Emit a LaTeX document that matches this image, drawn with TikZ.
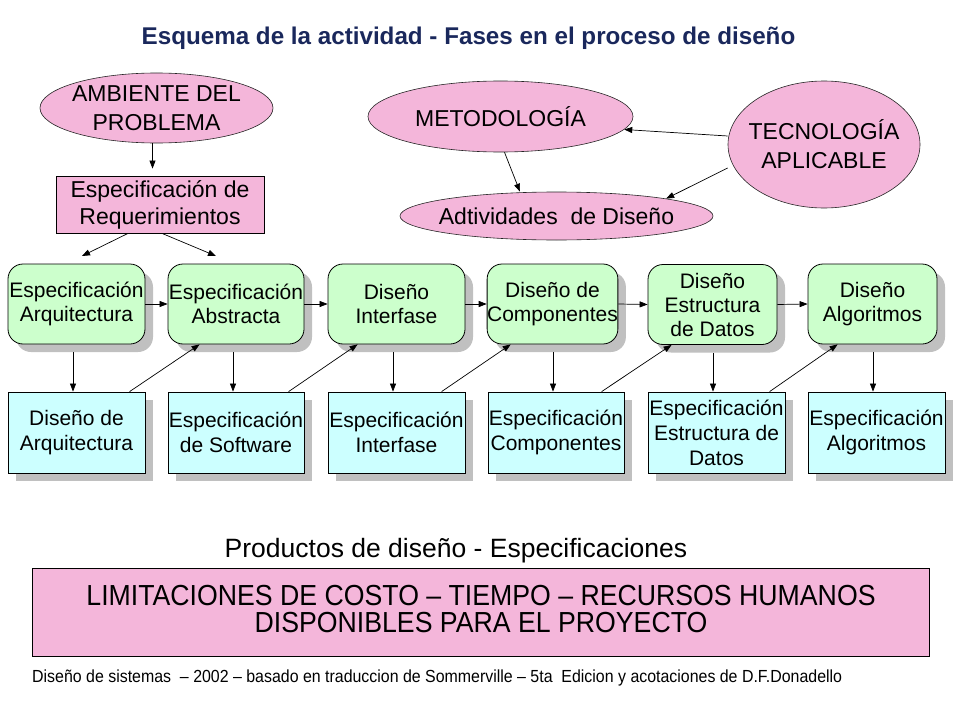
\documentclass[tikz,border=0pt]{standalone}
\usepackage{fontspec}
\setmainfont{Liberation Sans}
\newfontfamily\narrowfont[FakeStretch=0.92]{Liberation Sans}
\newfontfamily\footfont[FakeStretch=0.91]{Liberation Sans}
\usetikzlibrary{shapes.geometric,arrows.meta,shadows,calc}
\definecolor{pinkc}{RGB}{244,182,218}
\definecolor{greenc}{RGB}{204,255,204}
\definecolor{cyanc}{RGB}{204,255,255}
\definecolor{shadowc}{RGB}{192,192,192}
\definecolor{titlec}{RGB}{26,40,92}
\begin{document}
\begin{tikzpicture}[x=1pt,y=-1pt,
  pinkell/.style={ellipse, draw=black!85, line width=0.6pt, fill=pinkc, inner sep=0pt},
  pinktxt/.style={inner sep=0pt, align=center, font=\fontsize{23}{29}\selectfont},
  boxshadow/.style={general shadow={fill=shadowc, shadow xshift=8pt, shadow yshift=-8pt}},
  greenbox/.style={rectangle, rounded corners=15pt, draw, line width=0.8pt, fill=greenc,
    minimum height=80pt, inner sep=0pt, align=center, font=\fontsize{21}{24}\selectfont, boxshadow},
  cyanbox/.style={rectangle, draw, line width=0.8pt, fill=cyanc,
    minimum height=81pt, inner sep=0pt, align=center, font=\fontsize{21}{25}\selectfont, boxshadow},
  arr/.style={-{Triangle[length=8pt,width=6pt]}, line width=0.7pt}
]
\useasboundingbox[fill=white] (0,0) rectangle (956,717);

% title
\node[anchor=base, font=\fontsize{24.2}{28}\selectfont\bfseries, text=titlec] (title) at (468.5,45)
  {Esquema de la actividad - Fases en el proceso de diseño};

% ellipses
\node[pinkell, minimum width=233pt, minimum height=70pt] (amb) at (156.5,108) {};
\node[pinktxt] (ambT) at (amb) {AMBIENTE DEL\\PROBLEMA};
\node[pinkell, minimum width=265pt, minimum height=71pt] (met) at (500.5,116.5) {};
\node[pinktxt] (metT) at (met) {METODOLOGÍA};
\node[pinkell, minimum width=192pt, minimum height=127pt] (tec) at (824,144.5) {};
\node[pinktxt] (tecT) at (tec) {TECNOLOGÍA\\APLICABLE};
\node[pinkell, minimum width=313pt, minimum height=48pt] (adt) at (556.5,216) {};
\node[pinktxt] (adtT) at (adt) {Adtividades\ \ de Diseño};

% requirements box
\node[draw, fill=pinkc, line width=0.8pt, minimum width=208pt, minimum height=57pt, inner sep=0pt,
  align=center, font=\fontsize{23}{27}\selectfont] (req) at (160,204.5) {Especificación de\\Requerimientos};

\draw[arr] ([xshift=-4pt]amb.south) -- ([xshift=-4pt,yshift=7pt]amb.south |- req.north);
\coordinate (rq1) at (82,256);
\coordinate (rq2) at (216,256);
\draw[arr] ([xshift=-32pt]req.south) -- (rq1);
\draw[arr] ([xshift=2pt]req.south) -- (rq2);

\draw[arr] ([xshift=4pt]met.south) -- ([xshift=-36.5pt]adt.north);
\draw[arr] ([yshift=8.5pt]tec.west) -- (met.-6);
\draw[arr] ([yshift=-23.5pt]tec.west) -- (adt.9);

% green row
\node[greenbox, minimum width=137pt] (g1) at (76.5,304) {Especificación\\Arquitectura};
\node[greenbox, minimum width=136pt] (g2) at (236,304) {Especificación\\Abstracta};
\node[greenbox, minimum width=137pt] (g3) at (396.5,304) {Diseño\\Interfase};
\node[greenbox, minimum width=129pt] (g4) at (552.5,304) {Diseño de\\Componentes};
\node[greenbox, minimum width=129pt] (g5) at (712.5,304.5) {Diseño\\Estructura\\de Datos};
\node[greenbox, minimum width=129pt] (g6) at (872.5,304) {Diseño\\Algoritmos};

% cyan row
\node[cyanbox, minimum width=137pt] (c1) at (76.5,432.5) {Diseño de\\Arquitectura};
\node[cyanbox, minimum width=136pt] (c2) at (236,432.5) {Especificación\\de Software};
\node[cyanbox, minimum width=137pt] (c3) at (396.5,432.5) {Especificación\\Interfase};
\node[cyanbox, minimum width=136pt] (c4) at (556,432.5) {Especificación\\Componentes};
\node[cyanbox, minimum width=137pt] (c5) at (716.5,432.5) {Especificación\\Estructura de\\Datos};
\node[cyanbox, minimum width=137pt] (c6) at (876.5,432.5) {Especificación\\Algoritmos};

% horizontal arrows
\draw[arr] (g1.east) -- (g2.west);
\draw[arr] (g2.east) -- (g3.west);
\draw[arr] (g3.east) -- (g4.west);
\draw[arr] (g4.east) -- (g5.west);
\draw[arr] (g5.east) -- (g6.west);

% vertical arrows
\foreach \i/\dx in {1/-3.5,2/-3,3/-3.5,4/0.5,5/0.5,6/0.5}{
  \draw[arr] ([xshift=\dx pt,yshift=-8pt]g\i.south) -- ([xshift=\dx pt]g\i.south |- c\i.north);
}

% diagonal arrows
\draw[arr] ([xshift=122pt]c1.north west) -- ([xshift=32pt]g2.south west);
\draw[arr] ([xshift=121pt]c2.north west) -- ([xshift=30pt]g3.south west);
\draw[arr] ([xshift=114pt]c3.north west) -- ([xshift=24pt]g4.south west);
\draw[arr] ([xshift=114pt]c4.north west) -- ([xshift=24pt]g5.south west);
\draw[arr] ([xshift=122pt]c5.north west) -- ([xshift=30pt]g6.south west);

% bottom
\node[anchor=base, font=\fontsize{26.5}{30}\selectfont] (prod) at (456,557) {Productos de diseño - Especificaciones};
\node[draw, fill=pinkc, line width=0.8pt, minimum width=897pt, minimum height=88pt, inner sep=0pt] (lim) at (480.5,612) {};
\node[inner sep=0pt, align=center, font=\narrowfont\fontsize{29}{27}\selectfont] (limT) at (481,609)
  {LIMITACIONES DE COSTO – TIEMPO – RECURSOS HUMANOS\\DISPONIBLES PARA EL PROYECTO};
\node[anchor=base west, inner sep=0pt, font=\footfont\fontsize{17.5}{20}\selectfont] (foot) at (32,682)
  {Diseño de sistemas\ \ – 2002 – basado en traduccion de Sommerville – 5ta\ \ Edicion y acotaciones de D.F.Donadello};
\end{tikzpicture}
\end{document}
